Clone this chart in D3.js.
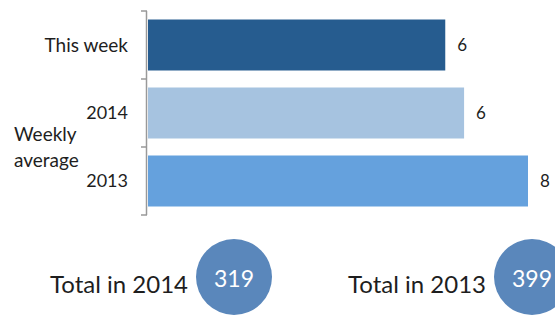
<!DOCTYPE html>
<html>
<head>
<meta charset="utf-8">
<script src="https://cdn.jsdelivr.net/npm/d3@7"></script>
<style>
  body { margin: 0; background: #fff; }
  text { font-family: Lato, "Open Sans", sans-serif; fill: #1e1e1e; }
</style>
</head>
<body>
<script>
const categories = ['This week', '2014', '2013'];
const values = [6, 6.38, 7.67];
const barColors = ['#265c8f', '#a6c3e0', '#65a1dd'];
const totalYears = ['2014', '2013'];
const totals = [319, 399];

const width = 555,
  height = 316;

const svg = d3
  .select('body')
  .append('svg')
  .attr('width', width)
  .attr('height', height);

const x = d3
  .scaleLinear()
  .domain([0, d3.max(values)])
  .range([148, 528]);

const y = d3
  .scaleBand()
  .domain(categories)
  .range([11, 215])
  .paddingInner(0.25)
  .paddingOuter(0.125);

// bars
svg
  .selectAll('rect.bar')
  .data(values)
  .enter()
  .append('rect')
  .attr('class', 'bar')
  .attr('x', x(0))
  .attr('y', (d, i) => y(categories[i]))
  .attr('width', d => x(d) - x(0))
  .attr('height', y.bandwidth())
  .attr('fill', (d, i) => barColors[i]);

// value labels
svg
  .selectAll('text.val')
  .data(values)
  .enter()
  .append('text')
  .attr('class', 'val')
  .attr('x', d => x(d) + 12)
  .attr('y', (d, i) => y(categories[i]) + y.bandwidth() / 2)
  .attr('dy', '0.35em')
  .style('font-size', '17px')
  .text(d => d3.format('.0f')(d));

// axis with ticks between bands
const axis = svg.append('g').attr('stroke', '#999').attr('stroke-width', 1.5);
axis
  .append('line')
  .attr('x1', 146.5)
  .attr('x2', 146.5)
  .attr('y1', y.range()[0])
  .attr('y2', y.range()[1]);
const tickYs = [y.range()[0]].concat(
  categories.slice(1).map(c => y(c) - (y.step() * y.paddingInner()) / 2),
  [y.range()[1]]
);
axis
  .selectAll('line.tick')
  .data(tickYs)
  .enter()
  .append('line')
  .attr('class', 'tick')
  .attr('x1', 141)
  .attr('x2', 147)
  .attr('y1', d => d)
  .attr('y2', d => d);

// category labels
svg
  .selectAll('text.cat')
  .data(categories)
  .enter()
  .append('text')
  .attr('class', 'cat')
  .attr('x', 128)
  .attr('y', d => y(d) + y.bandwidth() / 2)
  .attr('dy', '0.35em')
  .attr('text-anchor', 'end')
  .style('font-size', (d, i) => (i === 0 ? '19px' : '18px'))
  .text(d => d);

svg
  .append('text')
  .attr('x', 14)
  .attr('y', 134)
  .attr('dy', '0.35em')
  .style('font-size', '19px')
  .text('Weekly');
svg
  .append('text')
  .attr('x', 14)
  .attr('y', 160)
  .attr('dy', '0.35em')
  .style('font-size', '19px')
  .text('average');

// totals
const cx = [234, 532];
totals.forEach((t, i) => {
  svg
    .append('text')
    .attr('x', cx[i] - 46)
    .attr('y', 293)
    .attr('text-anchor', 'end')
    .style('font-size', '24px')
    .text('Total in ' + totalYears[i]);
  svg
    .append('circle')
    .attr('cx', cx[i])
    .attr('cy', 277)
    .attr('r', 38)
    .attr('fill', '#5a87bb');
  svg
    .append('text')
    .attr('x', cx[i])
    .attr('y', 287)
    .attr('text-anchor', 'middle')
    .style('font-size', '23px')
    .style('fill', '#fff')
    .text(t);
});
</script>
</body>
</html>
